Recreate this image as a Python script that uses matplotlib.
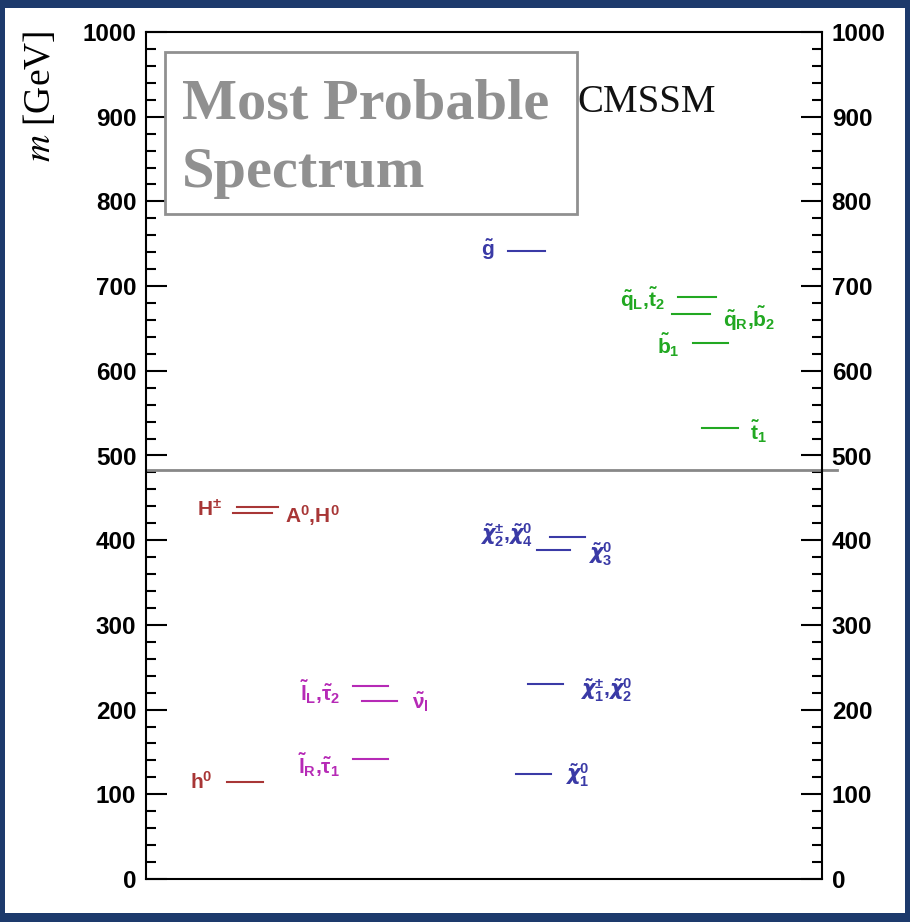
import matplotlib
matplotlib.use("Agg")
import matplotlib.pyplot as plt
from matplotlib.patches import Rectangle
from matplotlib.ticker import MultipleLocator

plt.rcParams['mathtext.fontset'] = 'custom'
plt.rcParams['mathtext.rm'] = 'Liberation Sans'
plt.rcParams['mathtext.it'] = 'DejaVu Sans:italic:bold'
plt.rcParams['mathtext.bf'] = 'Liberation Sans:bold'
plt.rcParams['mathtext.default'] = 'bf'

# masses in GeV
names = [r'$\tilde{g}$',
         r'$\tilde{q}_L{,}\tilde{t}_2$', r'$\tilde{q}_R{,}\tilde{b}_2$',
         r'$\tilde{b}_1$', r'$\tilde{t}_1$',
         r'$H^{\pm}$', r'$A^0{,}H^0$',
         r'$\tilde{\mathit{\chi}}^{\pm}_2{,}\tilde{\mathit{\chi}}^0_4$', r'$\tilde{\mathit{\chi}}^0_3$',
         r'$\tilde{l}_L{,}\tilde{\tau}_2$', r'$\tilde{\nu}_l$',
         r'$\tilde{l}_R{,}\tilde{\tau}_1$', r'$h^0$',
         r'$\tilde{\mathit{\chi}}^{\pm}_1{,}\tilde{\mathit{\chi}}^0_2$', r'$\tilde{\mathit{\chi}}^0_1$']
masses = [741, 687, 667, 633, 532, 439, 432, 404, 388, 228, 210, 142, 114, 230, 124]
groups = ['blue', 'green', 'green', 'green', 'green', 'red', 'red',
          'blue', 'blue', 'mag', 'mag', 'mag', 'red', 'blue', 'blue']

# where each level sits along the (unitless) x axis
x_start = [0.536, 0.787, 0.778, 0.809, 0.822, 0.135, 0.129, 0.598, 0.578,
           0.306, 0.320, 0.306, 0.120, 0.565, 0.547]
x_end = [0.590, 0.843, 0.834, 0.861, 0.876, 0.195, 0.186, 0.649, 0.627,
         0.358, 0.371, 0.358, 0.173, 0.617, 0.599]
# label anchor: x, y offset in GeV, alignment
lab_x = [0.516, 0.768, 0.854, 0.790, 0.893, 0.112, 0.206, 0.572, 0.654,
         0.287, 0.393, 0.287, 0.099, 0.642, 0.620]
lab_dy = [2, -3, -5, -3, -4, -3, -3, 2, -5, -7, -1, -7, 1, -7, -1]
lab_ha = ['right', 'right', 'left', 'right', 'left', 'right', 'left', 'right', 'left',
          'right', 'left', 'right', 'right', 'left', 'left']

colors = {'red': '#a83636', 'green': '#22a822', 'blue': '#3a3aa6', 'mag': '#b62ab6'}

fig = plt.figure(figsize=(9.1, 9.22), dpi=100)
fig.patch.set_facecolor('#1d3a6c')
fig.add_artist(Rectangle((5 / 910, 1 - 913 / 922), 900 / 910, 905 / 922,
                         transform=fig.transFigure, facecolor='white',
                         edgecolor='none', zorder=0))

ax = fig.add_axes([146 / 910, 1 - 879 / 922, 676 / 910, 847 / 922])
ax.set_xlim(0, 1)
ax.set_ylim(0, 1000)

for i in range(len(masses)):
    c = colors[groups[i]]
    ax.plot([x_start[i], x_end[i]], [masses[i], masses[i]], color=c, lw=1.5)
    ax.text(lab_x[i], masses[i] + lab_dy[i], names[i], color=c, fontsize=15,
            ha=lab_ha[i], va='center')

# gray separator line
ax.plot([0.003, 1.022], [483, 483], color='#888888', lw=2, clip_on=False)

# box with title
ax.add_patch(Rectangle((0.028, 785), 0.61, 191, facecolor='white',
                       edgecolor='#909090', lw=2, zorder=3))
ax.text(0.053, 898, 'Most Probable', family='Liberation Serif', weight='bold',
        fontsize=42, color='#909090', va='baseline', zorder=4)
ax.text(0.053, 817, 'Spectrum', family='Liberation Serif', weight='bold',
        fontsize=42, color='#909090', va='baseline', zorder=4)
ax.text(0.638, 906, 'CMSSM', family='Liberation Serif', fontsize=28,
        color='#111111', va='baseline')

ax.set_xticks([])
ax.yaxis.set_major_locator(MultipleLocator(100))
ax.yaxis.set_minor_locator(MultipleLocator(20))
ax.tick_params(axis='y', which='both', direction='in', left=True, right=True,
               labelleft=True, labelright=True, width=1.5, pad=7)
ax.tick_params(axis='y', which='major', length=15, labelsize=17.5)
ax.tick_params(axis='y', which='minor', length=7)
for t in ax.get_yticklabels():
    t.set_family('Liberation Sans')
    t.set_weight('bold')
for s in ax.spines.values():
    s.set_linewidth(1.5)

fig.text(40 / 910, 1 - 96 / 922, r'$\mathit{m}$ [GeV]', rotation=90, ha='center',
         va='center', fontsize=27, family='Liberation Serif', math_fontfamily='stix')

fig.savefig('out.png', dpi=100, facecolor=fig.get_facecolor())
